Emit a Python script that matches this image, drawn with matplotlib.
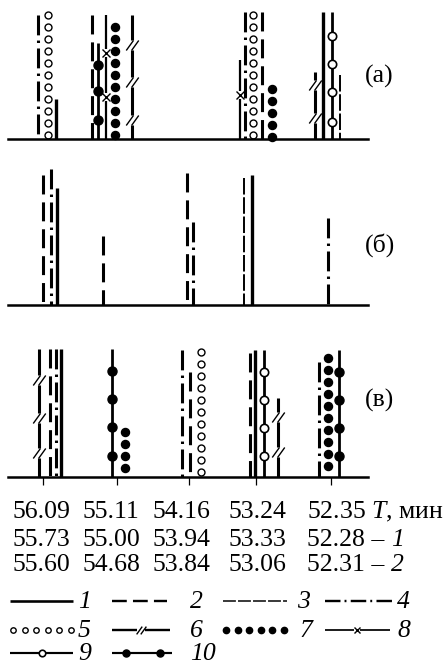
import numpy as np
import matplotlib.pyplot as plt
from matplotlib.path import Path

plt.rcParams['font.family'] = ['Liberation Serif', 'DejaVu Serif']
plt.rcParams['mathtext.fontset'] = 'custom'
plt.rcParams['mathtext.rm'] = 'Liberation Serif'
plt.rcParams['mathtext.it'] = 'Liberation Serif:italic'

# kinds: 1 solid, 2 dashed, 3 fine dashed, 4 dash-dot, 5 open circles,
# 6 line with //, 7 black dots, 8 line with x, 9 line with open circles, 10 line with dots
a_kind = [4, 5, 1, 2, 10, 8, 7, 6, 8, 4, 5, 2, 7, 6, 1, 9, 3]
a_x = [38, 48, 56, 92, 98, 106, 115, 132, 240, 245, 253, 262, 272, 315, 323, 332, 340]
a_top = [124, 124, 40, 124, 96, 124, 112, 124, 79, 127, 124, 127, 50, 67, 127, 127, 64]
a_marks = {4: [74, 48, 19], 5: [86, 42], 7: [94, 57, 19], 8: [44],
           13: [54, 21], 15: [103, 75, 47, 17]}

b_kind = [2, 4, 1, 2, 2, 4, 3, 1, 4]
b_x = [43, 51, 57, 103, 187, 193, 244, 252, 328]
b_top = [130, 136, 117, 69, 132, 83, 127, 130, 87]
b_marks = {}

c_kind = [6, 2, 4, 1, 10, 7, 4, 2, 5, 2, 1, 9, 6, 4, 7, 10]
c_x = [39, 50, 56, 61, 112, 125, 182, 190, 201, 250, 255, 264, 278, 319, 328, 339]
c_top = [128, 128, 128, 128, 128, 45, 127, 105, 125, 124, 127, 127, 79, 115, 119, 127]
c_marks = {0: [97, 59, 24], 4: [106, 78, 50, 21], 11: [105, 77, 49, 21],
           12: [60, 25], 15: [105, 77, 49, 21]}

c_ticks = [43, 117, 189, 256, 331]
temp_T = ['56.09', '55.11', '54.16', '53.24', '52.35']
temp_1 = ['55.73', '55.00', '53.94', '53.33', '52.28']
temp_2 = ['55.60', '54.68', '53.84', '53.06', '52.31']
col_x = [13, 82, 152, 228, 307]

SLASH = Path([(-1, -0.8), (0.15, 0.8), (-0.15, -0.8), (1, 0.8)],
             [Path.MOVETO, Path.LINETO, Path.MOVETO, Path.LINETO])


def broken(a, b, marks, gap):
    d = np.sign(b - a)
    pts = [a]
    for m in sorted(marks, key=lambda v: d * v):
        pts += [m - d * gap, np.nan, m + d * gap]
    pts.append(b)
    return np.array(pts, dtype=float)


def draw(ax, kind, c, a, b, marks=(), vertical=True, sc=1.0, step=12.0):
    def xy(p):
        p = np.asarray(p, dtype=float)
        q = np.full_like(p, c)
        return (q, p) if vertical else (p, q)
    kw = dict(color='k', clip_on=False, solid_capstyle='butt', dash_capstyle='butt')
    d = np.sign(b - a)
    if kind == 1:
        ax.plot(*xy([a, b]), lw=2.4 * sc, **kw)
    elif kind == 2:
        ax.plot(*xy([a, b]), lw=2.2 * sc, ls=(0, (6.2, 2.6)), **kw)
    elif kind == 3:
        ax.plot(*xy([a, b]), lw=1.4 * sc, ls=(0, (8.5, 1.4)), **kw)
    elif kind == 4:
        ax.plot(*xy([a, b]), lw=2.2 * sc, ls=(0, (6.5, 1.7, 0.8, 1.8)), **kw)
    elif kind == 5:
        p = np.arange(a, b, d * step)
        ax.plot(*xy(p), 'o', ms=5 * sc, mfc='white', mec='k', mew=1.0, ls='none', clip_on=False)
    elif kind == 7:
        p = np.arange(a, b, d * step)
        ax.plot(*xy(p), 'o', ms=5.8 * sc, mfc='k', mec='k', ls='none', clip_on=False)
    elif kind == 6:
        ax.plot(*xy(broken(a, b, marks, 5 * sc)), lw=2.2 * sc, **kw)
        ax.plot(*xy(marks), ls='none', marker=SLASH, ms=9 * sc, mew=1.0, mec='k', clip_on=False)
    elif kind == 8:
        ax.plot(*xy(broken(a, b, marks, 4 * sc)), lw=1.6 * sc, **kw)
        ax.plot(*xy(marks), 'x', ms=6 * sc, mew=1.0, mec='k', ls='none', clip_on=False)
    elif kind == 9:
        ax.plot(*xy([a, b]), lw=2.0 * sc, **kw)
        ax.plot(*xy(marks), 'o', ms=6 * sc, mfc='white', mec='k', mew=1.2, ls='none',
                clip_on=False, zorder=3)
    elif kind == 10:
        ax.plot(*xy([a, b]), lw=2.0 * sc, **kw)
        ax.plot(*xy(marks), 'o', ms=6.5 * sc, mfc='k', mec='k', ls='none',
                clip_on=False, zorder=3)


W, H = 446, 668
fig = plt.figure(figsize=(W / 100, H / 100), dpi=100)

panels = [(a_kind, a_x, a_top, a_marks, 139, 130),
          (b_kind, b_x, b_top, b_marks, 305, 140),
          (c_kind, c_x, c_top, c_marks, 477, 135)]
axes = []
for kinds, xs, tops, marks, base, h in panels:
    ax = fig.add_axes([8 / W, (H - base) / H, 360 / W, h / H])
    ax.set_xlim(8, 368)
    ax.set_ylim(0, h)
    for k, x, t, i in zip(kinds, xs, tops, range(len(kinds))):
        draw(ax, k, x, t, 0, marks.get(i, []))
    for s in ['top', 'left', 'right']:
        ax.spines[s].set_visible(False)
    ax.spines['bottom'].set_linewidth(1.8)
    ax.spines['bottom'].set_zorder(4)
    ax.set_yticks([])
    ax.set_xticks([])
    axes.append(ax)

axes[2].set_xticks(c_ticks)
axes[2].tick_params(axis='x', direction='out', length=6, width=0.9, labelbottom=False)

# text and legend area, pixel coordinates
tx = fig.add_axes([0, 0, 1, 1])
tx.set_xlim(0, W)
tx.set_ylim(H, 0)
tx.axis('off')

fs = 18.5
for lab, yb in [('(а)', 83), ('(б)', 252), ('(в)', 407)]:
    tx.text(365, yb, lab, fontsize=fs, va='baseline', ha='left')

for i, x in enumerate(col_x):
    last = i == len(col_x) - 1
    tx.text(x, 518, temp_T[i] + (r' $T$, мин' if last else ''), fontsize=fs, va='baseline')
    tx.text(x, 546, temp_1[i] + (' –' if last else ''), fontsize=fs, va='baseline')
    tx.text(x, 571, temp_2[i] + (' –' if last else ''), fontsize=fs, va='baseline')
tx.text(391, 546, '1', fontsize=fs, style='italic', va='baseline')
tx.text(391, 571, '2', fontsize=fs, style='italic', va='baseline')

leg_rows = [
    [(1, 10, 73, [], '1', 78), (2, 112, 167, [], '2', 190),
     (3, 223, 287, [], '3', 297), (4, 325, 392, [], '4', 397)],
    [(5, 13, 72, [], '5', 78), (6, 112, 170, [141], '6', 190),
     (7, 226, 287, [], '7', 299), (8, 325, 390, [357], '8', 397)],
    [(9, 10, 73, [42], '9', 78), (10, 112, 172, [126, 160], '10', 190)],
]
for yb, row in zip([608, 637, 660], leg_rows):
    yc = yb - 7
    for k, a, b, m, lab, lx in row:
        draw(tx, k, yc, a, b, m, vertical=False, sc=0.78, step=11.5)
        tx.text(lx, yb, lab, fontsize=fs, style='italic', va='baseline')

fig.savefig('out.png', dpi=100)
